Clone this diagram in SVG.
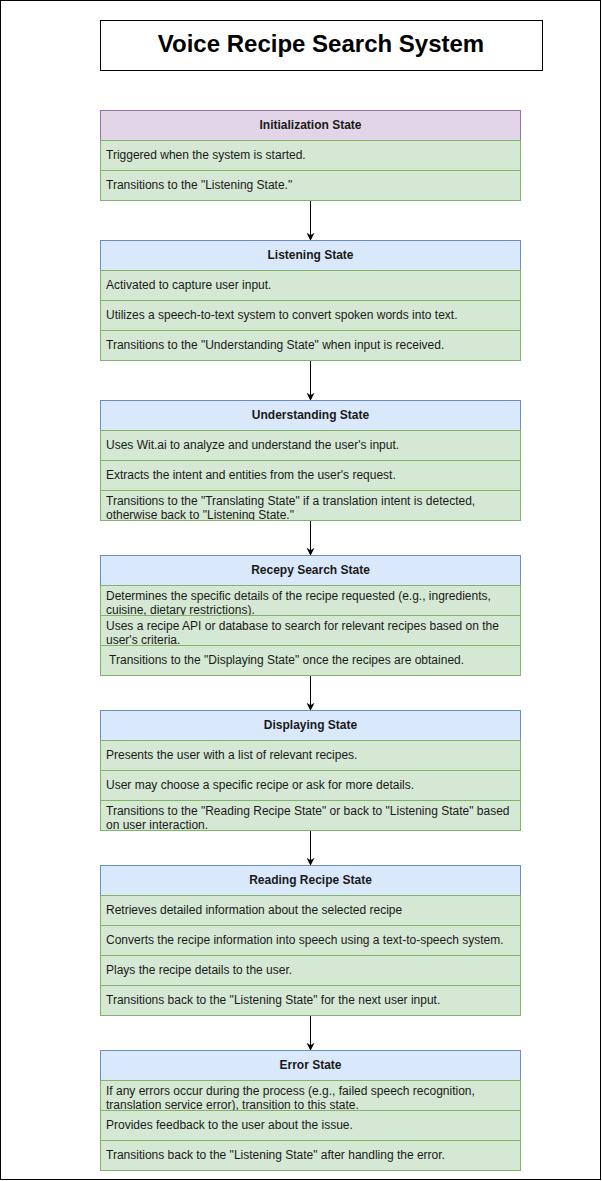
<svg xmlns="http://www.w3.org/2000/svg" width="602" height="1181" viewBox="0 0 602 1181">
<style>
text{font-family:"Liberation Sans",Arial,Helvetica,sans-serif;font-size:12px;fill:#1a1a1a}
.hp{fill:#e1d5e7;stroke:#9673a6;stroke-width:1}
.hb{fill:#dae8fc;stroke:#6c8ebf;stroke-width:1}
.r{fill:#d5e8d4;stroke:#82b366;stroke-width:1}
.ht{font-weight:bold;text-anchor:middle}
.c{stroke:#000;stroke-width:1;fill:none}
</style>
<defs>
<marker id="ah" viewBox="0 0 10 10" refX="9" refY="5" markerWidth="8" markerHeight="8" markerUnits="userSpaceOnUse" orient="auto">
<path d="M0,0 L10,5 L0,10 L3,5 Z" fill="#000"/>
</marker>
<clipPath id="c490"><rect x="100" y="490" width="421" height="30"/></clipPath>
<clipPath id="c585"><rect x="100" y="585" width="421" height="30"/></clipPath>
<clipPath id="c615"><rect x="100" y="615" width="421" height="30"/></clipPath>
<clipPath id="c800"><rect x="100" y="800" width="421" height="30"/></clipPath>
<clipPath id="c1080"><rect x="100" y="1080" width="421" height="30"/></clipPath>
</defs>
<rect x="0" y="0" width="602" height="1181" fill="#fff"/>
<rect x="0.5" y="0.5" width="600" height="1179" fill="none" stroke="#000" stroke-width="1"/>

<g id="title">
<rect x="100.5" y="20.5" width="442" height="50" fill="#fff" stroke="#000" stroke-width="1"/>
<text x="321" y="52" style="font-size:24px;font-weight:bold;text-anchor:middle;fill:#000">Voice Recipe Search System</text>
</g>

<g id="connectors">
<line class="c" x1="310.5" y1="200.5" x2="310.5" y2="240" marker-end="url(#ah)"/>
<line class="c" x1="310.5" y1="360.5" x2="310.5" y2="400" marker-end="url(#ah)"/>
<line class="c" x1="310.5" y1="520.5" x2="310.5" y2="555" marker-end="url(#ah)"/>
<line class="c" x1="310.5" y1="675.5" x2="310.5" y2="710" marker-end="url(#ah)"/>
<line class="c" x1="310.5" y1="830.5" x2="310.5" y2="865" marker-end="url(#ah)"/>
<line class="c" x1="310.5" y1="1015.5" x2="310.5" y2="1050" marker-end="url(#ah)"/>
</g>

<g id="initialization">
<rect class="hp" x="100.5" y="110.5" width="420" height="30"/>
<text class="ht" x="310.5" y="128.5">Initialization State</text>
<rect class="r" x="100.5" y="140.5" width="420" height="30"/>
<text x="106" y="158.5">Triggered when the system is started.</text>
<rect class="r" x="100.5" y="170.5" width="420" height="30"/>
<text x="106" y="188.5">Transitions to the "Listening State."</text>
</g>

<g id="listening">
<rect class="hb" x="100.5" y="240.5" width="420" height="30"/>
<text class="ht" x="310.5" y="258.5">Listening State</text>
<rect class="r" x="100.5" y="270.5" width="420" height="30"/>
<text x="106" y="288.5">Activated to capture user input.</text>
<rect class="r" x="100.5" y="300.5" width="420" height="30"/>
<text x="106" y="318.5">Utilizes a speech-to-text system to convert spoken words into text.</text>
<rect class="r" x="100.5" y="330.5" width="420" height="30"/>
<text x="106" y="348.5">Transitions to the "Understanding State" when input is received.</text>
</g>

<g id="understanding">
<rect class="hb" x="100.5" y="400.5" width="420" height="30"/>
<text class="ht" x="310.5" y="418.5">Understanding State</text>
<rect class="r" x="100.5" y="430.5" width="420" height="30"/>
<text x="106" y="448.5">Uses Wit.ai to analyze and understand the user's input.</text>
<rect class="r" x="100.5" y="460.5" width="420" height="30"/>
<text x="106" y="478.5">Extracts the intent and entities from the user's request.</text>
<rect class="r" x="100.5" y="490.5" width="420" height="30"/>
<text x="106" y="504.5" clip-path="url(#c490)">Transitions to the "Translating State" if a translation intent is detected,<tspan x="106" y="518.5">otherwise back to "Listening State."</tspan></text>
</g>

<g id="recepy-search">
<rect class="hb" x="100.5" y="555.5" width="420" height="30"/>
<text class="ht" x="310.5" y="573.5">Recepy Search State</text>
<rect class="r" x="100.5" y="585.5" width="420" height="30"/>
<text x="106" y="599.5" clip-path="url(#c585)">Determines the specific details of the recipe requested (e.g., ingredients,<tspan x="106" y="613.5">cuisine, dietary restrictions).</tspan></text>
<rect class="r" x="100.5" y="615.5" width="420" height="30"/>
<text x="106" y="629.5" clip-path="url(#c615)">Uses a recipe API or database to search for relevant recipes based on the<tspan x="106" y="643.5">user's criteria.</tspan></text>
<rect class="r" x="100.5" y="645.5" width="420" height="30"/>
<text x="106" y="663.5" xml:space="preserve"> Transitions to the "Displaying State" once the recipes are obtained.</text>
</g>

<g id="displaying">
<rect class="hb" x="100.5" y="710.5" width="420" height="30"/>
<text class="ht" x="310.5" y="728.5">Displaying State</text>
<rect class="r" x="100.5" y="740.5" width="420" height="30"/>
<text x="106" y="758.5">Presents the user with a list of relevant recipes.</text>
<rect class="r" x="100.5" y="770.5" width="420" height="30"/>
<text x="106" y="788.5">User may choose a specific recipe or ask for more details.</text>
<rect class="r" x="100.5" y="800.5" width="420" height="30"/>
<text x="106" y="814.5" clip-path="url(#c800)">Transitions to the "Reading Recipe State" or back to "Listening State" based<tspan x="106" y="828.5">on user interaction.</tspan></text>
</g>

<g id="reading-recipe">
<rect class="hb" x="100.5" y="865.5" width="420" height="30"/>
<text class="ht" x="310.5" y="883.5">Reading Recipe State</text>
<rect class="r" x="100.5" y="895.5" width="420" height="30"/>
<text x="106" y="913.5">Retrieves detailed information about the selected recipe</text>
<rect class="r" x="100.5" y="925.5" width="420" height="30"/>
<text x="106" y="943.5">Converts the recipe information into speech using a text-to-speech system.</text>
<rect class="r" x="100.5" y="955.5" width="420" height="30"/>
<text x="106" y="973.5">Plays the recipe details to the user.</text>
<rect class="r" x="100.5" y="985.5" width="420" height="30"/>
<text x="106" y="1003.5">Transitions back to the "Listening State" for the next user input.</text>
</g>

<g id="error">
<rect class="hb" x="100.5" y="1050.5" width="420" height="30"/>
<text class="ht" x="310.5" y="1068.5">Error State</text>
<rect class="r" x="100.5" y="1080.5" width="420" height="30"/>
<text x="106" y="1094.5" clip-path="url(#c1080)">If any errors occur during the process (e.g., failed speech recognition,<tspan x="106" y="1108.5">translation service error), transition to this state.</tspan></text>
<rect class="r" x="100.5" y="1110.5" width="420" height="30"/>
<text x="106" y="1128.5">Provides feedback to the user about the issue.</text>
<rect class="r" x="100.5" y="1140.5" width="420" height="30"/>
<text x="106" y="1158.5">Transitions back to the "Listening State" after handling the error.</text>
</g>
</svg>
